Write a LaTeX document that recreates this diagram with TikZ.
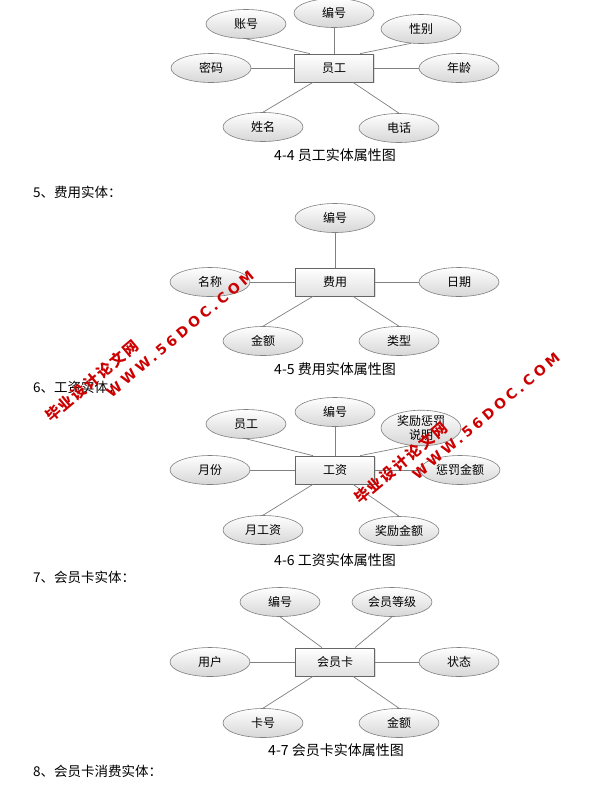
\documentclass[tikz,border=0pt]{standalone}
\usepackage{fontspec}
\setmainfont{Noto Sans CJK SC}
\newfontfamily\wmlatin{DejaVu Sans}[LetterSpace=25]
\newfontfamily\wmcjk{Noto Sans CJK SC}[LetterSpace=13]
\usetikzlibrary{shapes.geometric,calc,shadows}
\begin{document}
\begin{tikzpicture}[x=1pt,y=-1pt,
  attr/.style={ellipse, draw=black!50, line width=0.6pt, top color=white, bottom color=black!16,
    minimum width=80pt, minimum height=29pt, inner sep=0pt, font=\fontsize{12}{13}\selectfont},
  ent/.style={rectangle, draw=black!60, line width=0.7pt, top color=white, bottom color=black!12,
    minimum width=79pt, minimum height=28pt, inner sep=0pt, font=\fontsize{12}{13}\selectfont,
    drop shadow={shadow xshift=1pt, shadow yshift=-1pt, opacity=0.25}},
  link/.style={draw=black!50, line width=0.7pt},
  figcap/.style={font=\fontsize{14}{16}\selectfont, inner sep=0pt},
  sechead/.style={font=\fontsize{13.5}{15}\selectfont, inner sep=0pt, anchor=west},
  wmark/.style={text=red!80!black, rotate=40, inner sep=0pt},
  wmcn/.style={wmark, font=\wmcjk\bfseries\fontsize{15}{15}\selectfont},
  wmen/.style={wmark, font=\wmlatin\bfseries\fontsize{14}{14}\selectfont}
]
\useasboundingbox (0,0) rectangle (595,793);
\fill[white] (0,0) rectangle (595,793);

% ---- 4-4
\node[ent] (r1) at (334,68) {员工};
\node[attr] (a11) at (334,13) {编号};
\node[attr] (a12) at (246,24) {账号};
\node[attr] (a13) at (421,29) {性别};
\node[attr] (a14) at (211,68) {密码};
\node[attr] (a15) at (459,68) {年龄};
\node[attr] (a16) at (263,127) {姓名};
\node[attr] (a17) at (399,128) {电话};
\draw[link] (a11) -- (r1);
\draw[link] (a12.south) -- ($(r1.north)+(-24,0)$);
\draw[link] (a13.235) -- ($(r1.north)+(26,0)$);
\draw[link] (a14) -- (r1);
\draw[link] (r1) -- (a15);
\draw[link] ($(r1.south)+(-21,0)$) -- (a16.north);
\draw[link] ($(r1.south)+(19,0)$) -- (a17.north);
\node[figcap] (c1) at (335,155) {4-4 员工实体属性图};

% ---- 4-5
\node[sechead] (h5) at (33,192) {5、费用实体：};
\node[ent] (r2) at (335,282) {费用};
\node[attr] (a21) at (335,218) {编号};
\node[attr] (a22) at (210,282) {名称};
\node[attr] (a23) at (459,282) {日期};
\node[attr] (a24) at (263,341) {金额};
\node[attr] (a25) at (399,341) {类型};
\draw[link] (a21) -- (r2);
\draw[link] (a22) -- (r2);
\draw[link] (r2) -- (a23);
\draw[link] ($(r2.south)+(-22,0)$) -- (a24.north);
\draw[link] ($(r2.south)+(18,0)$) -- (a25.north);
\node[figcap] (c2) at (335,369) {4-5 费用实体属性图};

% ---- 4-6
\node[sechead] (h6) at (33,387) {6、工资实体：};
\node[ent] (r3) at (335,470) {工资};
\node[attr] (a31) at (335,412) {编号};
\node[attr] (a32) at (246,424) {员工};
\node[attr, align=center, font=\fontsize{12}{14}\selectfont] (a33) at (421,428) {奖励惩罚\\说明};
\node[attr] (a34) at (210,470) {月份};
\node[attr] (a35) at (460,470) {惩罚金额};
\node[attr] (a36) at (263,530) {月工资};
\node[attr] (a37) at (399,531) {奖励金额};
\draw[link] (a31) -- (r3);
\draw[link] (a32.south) -- ($(r3.north)+(-22,0)$);
\draw[link] (a33.240) -- ($(r3.north)+(25,0)$);
\draw[link] (a34) -- (r3);
\draw[link] (r3) -- (a35);
\draw[link] ($(r3.south)+(-22,0)$) -- (a36.north);
\draw[link] ($(r3.south)+(18,0)$) -- (a37.north);
\node[figcap] (c3) at (335,560) {4-6 工资实体属性图};

% ---- 4-7
\node[sechead] (h7) at (33,577) {7、会员卡实体：};
\node[ent] (r4) at (335,662) {会员卡};
\node[attr] (a41) at (280,602) {编号};
\node[attr] (a42) at (392,602) {会员等级};
\node[attr] (a43) at (210,662) {用户};
\node[attr] (a44) at (459,662) {状态};
\node[attr] (a45) at (263,723) {卡号};
\node[attr] (a46) at (399,723) {金额};
\draw[link] (a41.south) -- ($(r4.north)+(-13,0)$);
\draw[link] (a42.south) -- ($(r4.north)+(20,0)$);
\draw[link] (a43) -- (r4);
\draw[link] (r4) -- (a44);
\draw[link] ($(r4.south)+(-22,0)$) -- (a45.north);
\draw[link] ($(r4.south)+(18,0)$) -- (a46.north);
\node[figcap] (c4) at (336,750) {4-7 会员卡实体属性图};
\node[sechead] (h8) at (33,771) {8、会员卡消费实体：};

% ---- watermarks
\node[wmcn] (w1a) at (92,381) {毕业设计论文网};
\node[wmen] (w1b) at (180,334) {WWW.56DOC.COM};
\node[wmcn] (w2a) at (401,463) {毕业设计论文网};
\node[wmen] (w2b) at (486,416) {WWW.56DOC.COM};
\end{tikzpicture}
\end{document}
